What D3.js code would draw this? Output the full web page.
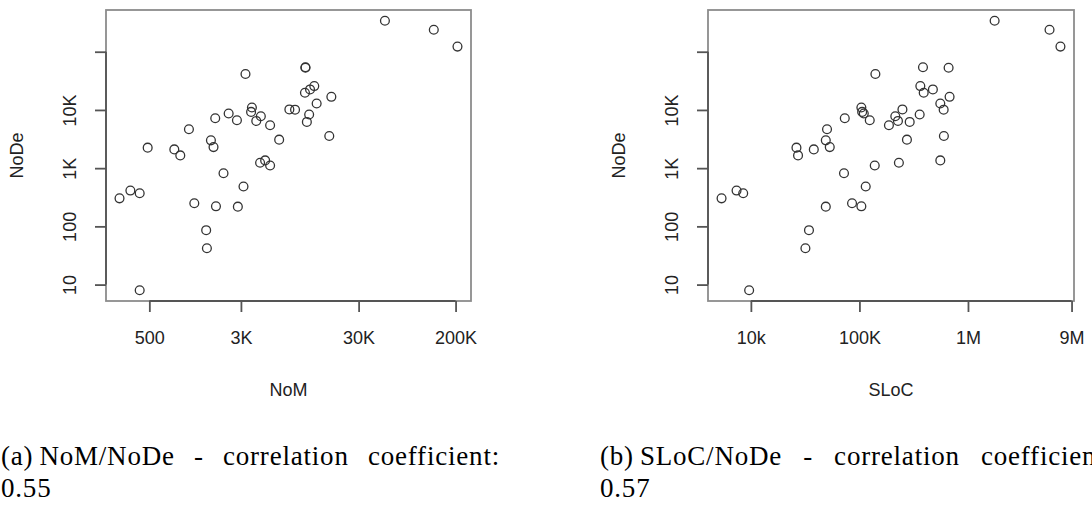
<!DOCTYPE html>
<html>
<head>
<meta charset="utf-8">
<script src="https://cdn.jsdelivr.net/npm/d3@7"></script>
<style>
  body { margin: 0; background: #fff; }
  svg { display: block; }
  .tick-label, .axis-title { font-family: "Liberation Sans", Arial, sans-serif; font-size: 18px; fill: #222; }
  .caption { font-family: "Liberation Serif", "Times New Roman", serif; font-size: 27px; letter-spacing: 0.8px; fill: #000; }
</style>
</head>
<body>
<div id="chart"></div>
<script>

// 1. Data (one entry per project, same order in every array)

const noDe = [340000, 238000, 122500, 54000, 53000, 41400, 25700, 22500, 19700, 16800,
  12900, 11000, 10200, 10100, 9250, 8690, 8340, 7800, 7200, 6650,
  6470, 6220, 5450, 4650, 3565, 3090, 3005, 2300, 2250, 2100,
  1656, 1358, 1239, 1112, 819, 483, 412, 370, 303, 249,
  221, 218, 86, 42, 8]

const noM = [50200, 130600, 207600, 10600, 10600, 3280, 12600, 11600, 10500, 17600,
  13200, 3720, 7740, 8650, 3660, 2360, 11400, 4430, 1815, 2775,
  4050, 10900, 5310, 1085, 16900, 6340, 1668, 1755, 484, 815,
  916, 4820, 4365, 5310, 2134, 3155, 345, 414, 279, 1205,
  1841, 2825, 1520, 1542, 414]

const sloc = [1760000, 5640000, 7110000, 385000, 663000, 140300, 364000, 475000, 391000, 677000,
  556000, 104200, 249000, 597000, 106000, 109700, 359000, 214000, 73300, 124500,
  226500, 290500, 187000, 50300, 600000, 274000, 49000, 53300, 26300, 38000,
  27200, 556000, 231000, 138400, 72100, 114300, 7380, 8500, 5370, 85500,
  104200, 49000, 34300, 31800, 9640]

const noDeTicks = [10, 100, 1000, 10000, 100000]
const noDeTickLabels = ["10", "100", "1K", "10K", ""]

const noMTicks = [500, 3000, 30000, 200000]
const noMTickLabels = ["500", "3K", "30K", "200K"]

const slocTicks = [10000, 100000, 1000000, 9000000]
const slocTickLabels = ["10k", "100K", "1M", "9M"]

const captionTags = ["(a)", "(b)"]
const captionLines = [
  ["NoM/NoDe - correlation coefficient:", "0.55"],
  ["SLoC/NoDe - correlation coefficient:", "0.57"],
]

// 2. Dimensions

const dimensions = {
  width: 1092,
  height: 505,
  plotTop: 10,
  plotBottom: 301,
  tickSize: 11,
  labelOffset: 36.5,
  titleOffset: 89,
  tagGap: 6,
}

const panels = [
  { left: 106, right: 471, xValues: noM, xTicks: noMTicks, xTickLabels: noMTickLabels, xTitle: "NoM",
    tag: captionTags[0], caption: captionLines[0], captionX: 1, captionRight: 500 },
  { left: 708, right: 1074, xValues: sloc, xTicks: slocTicks, xTickLabels: slocTickLabels, xTitle: "SLoC",
    tag: captionTags[1], caption: captionLines[1], captionX: 600, captionRight: 1113 },
]

// R style range: log extent padded by 4% each side
const paddedLogDomain = values => {
  const [lo, hi] = d3.extent(values, v => Math.log10(v))
  const pad = (hi - lo) * 0.04
  return [10 ** (lo - pad), 10 ** (hi + pad)]
}

// 3. Canvas

const svg = d3.select("#chart")
  .append("svg")
    .attr("width", dimensions.width)
    .attr("height", dimensions.height)

svg.append("rect")
    .attr("width", dimensions.width)
    .attr("height", dimensions.height)
    .attr("fill", "#fff")

const yScale = d3.scaleLog()
    .domain(paddedLogDomain(noDe))
    .range([dimensions.plotBottom, dimensions.plotTop])

panels.forEach(panel => drawPanel(panel))

function drawPanel(panel) {
  const xScale = d3.scaleLog()
      .domain(paddedLogDomain(panel.xValues))
      .range([panel.left, panel.right])

  const g = svg.append("g")

  // frame
  g.append("rect")
      .attr("x", panel.left)
      .attr("y", dimensions.plotTop)
      .attr("width", panel.right - panel.left)
      .attr("height", dimensions.plotBottom - dimensions.plotTop)
      .attr("fill", "none")
      .attr("stroke", "#8c8c8c")
      .attr("stroke-width", 1.8)

  // x axis
  const xAxis = g.append("g")
      .attr("transform", `translate(0,${dimensions.plotBottom})`)
      .call(d3.axisBottom(xScale)
        .tickValues(panel.xTicks)
        .tickFormat((d, i) => panel.xTickLabels[i])
        .tickSize(dimensions.tickSize))
  xAxis.select(".domain").remove()
  xAxis.selectAll(".tick line").attr("stroke", "#555").attr("stroke-width", 1.8)
  xAxis.selectAll(".tick text")
      .attr("class", "tick-label")
      .attr("y", dimensions.labelOffset)
      .attr("dy", "0.35em")
      .attr("fill", null)
  xAxis.attr("font-family", null).attr("font-size", null)
  xAxis.append("line")
      .attr("x1", xScale(panel.xTicks[0]))
      .attr("x2", xScale(panel.xTicks[panel.xTicks.length - 1]))
      .attr("stroke", "#555")
      .attr("stroke-width", 1.8)

  // y axis
  const yAxis = g.append("g")
      .attr("transform", `translate(${panel.left},0)`)
      .call(d3.axisLeft(yScale)
        .tickValues(noDeTicks)
        .tickFormat((d, i) => noDeTickLabels[i])
        .tickSize(dimensions.tickSize))
  yAxis.select(".domain").remove()
  yAxis.selectAll(".tick line").attr("stroke", "#555").attr("stroke-width", 1.8)
  yAxis.selectAll(".tick text")
      .attr("class", "tick-label")
      .attr("x", null)
      .attr("dy", null)
      .attr("fill", null)
      .attr("text-anchor", "middle")
      .attr("dominant-baseline", "central")
      .attr("transform", `translate(${-dimensions.labelOffset},0) rotate(-90)`)
  yAxis.attr("font-family", null).attr("font-size", null)
  yAxis.append("line")
      .attr("y1", yScale(noDeTicks[0]))
      .attr("y2", yScale(noDeTicks[noDeTicks.length - 1]))
      .attr("stroke", "#555")
      .attr("stroke-width", 1.8)

  // titles
  g.append("text")
      .attr("class", "axis-title")
      .attr("x", (panel.left + panel.right) / 2)
      .attr("y", dimensions.plotBottom + dimensions.titleOffset)
      .attr("dominant-baseline", "central")
      .attr("text-anchor", "middle")
      .text(panel.xTitle)

  g.append("text")
      .attr("class", "axis-title")
      .attr("dominant-baseline", "central")
      .attr("text-anchor", "middle")
      .attr("transform", `translate(${panel.left - dimensions.titleOffset},${
        (dimensions.plotTop + dimensions.plotBottom) / 2
      }) rotate(-90)`)
      .text("NoDe")

  // points
  g.append("g")
    .selectAll("circle")
    .data(noDe.map((d, i) => ({ y: d, x: panel.xValues[i] })))
    .enter().append("circle")
      .attr("cx", d => xScale(d.x))
      .attr("cy", d => yScale(d.y))
      .attr("r", 4.4)
      .attr("fill", "none")
      .attr("stroke", "#333")
      .attr("stroke-width", 1.3)

  // caption: tag, then first line justified to the column edge
  const tag = svg.append("text")
      .attr("class", "caption")
      .attr("x", panel.captionX)
      .attr("y", 465)
      .text(panel.tag)
  const start = panel.captionX + tag.node().getComputedTextLength() + dimensions.tagGap

  const words = panel.caption[0].split(" ")
  const wordNodes = words.map(w => svg.append("text")
      .attr("class", "caption")
      .attr("y", 465)
      .text(w))
  const widths = wordNodes.map(n => n.node().getComputedTextLength())
  const gap = (panel.captionRight - start - d3.sum(widths)) / (words.length - 1)
  let cursor = start
  wordNodes.forEach((n, i) => {
    n.attr("x", cursor)
    cursor += widths[i] + gap
  })
  svg.append("text")
      .attr("class", "caption")
      .attr("x", panel.captionX)
      .attr("y", 497)
      .text(panel.caption[1])
}

</script>
</body>
</html>
